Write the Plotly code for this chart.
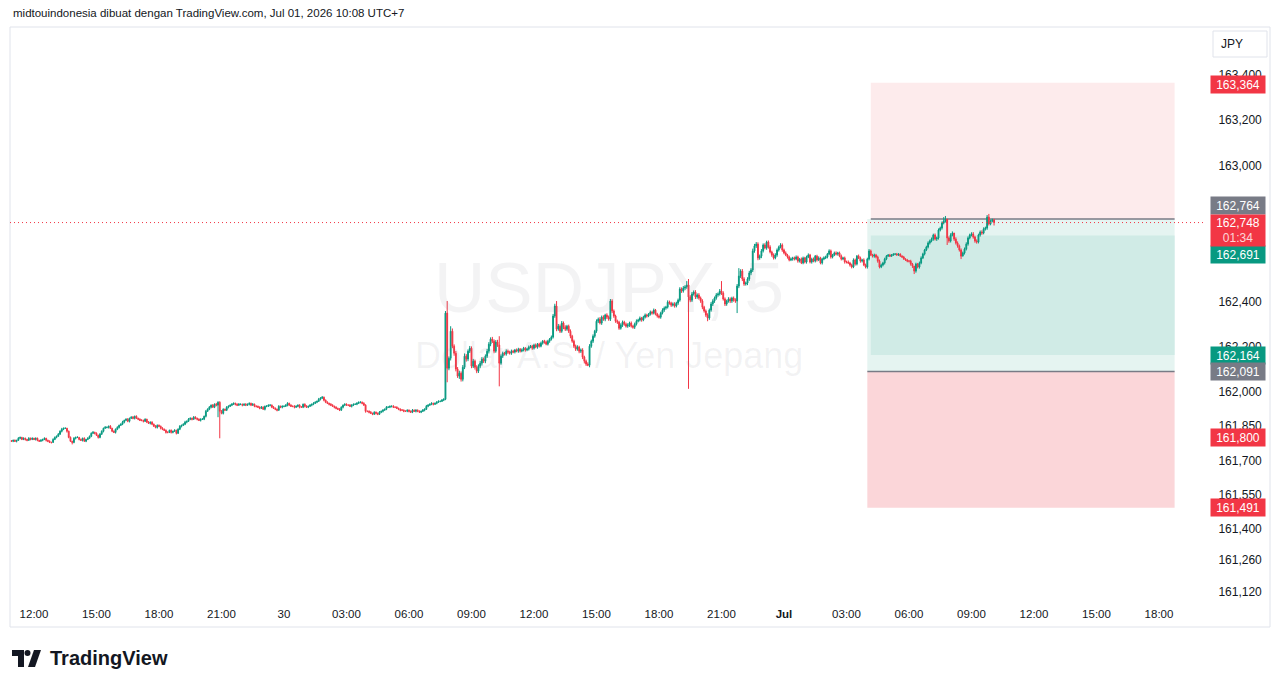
import plotly.graph_objects as go
import pandas as pd

# ---------------- data (USDJPY 5-minute bars) ----------------
bar_start = "2026-06-29 10:55"
first_open = 161.786
closes = [
    161.784,
    # Jun 29 11:00 .. 23:55
    161.788,161.784,161.788,161.797,161.801,161.792,161.797,161.792,161.788,161.797,161.792,161.797,
    161.792,161.797,161.788,161.784,161.788,161.792,161.797,161.788,161.784,161.779,161.779,161.792,
    161.801,161.806,161.815,161.828,161.837,161.841,161.841,161.828,161.801,161.784,161.779,161.797,
    161.801,161.801,161.792,161.788,161.797,161.784,161.792,161.797,161.806,161.819,161.823,161.819,
    161.810,161.801,161.815,161.828,161.841,161.845,161.845,161.850,161.841,161.828,161.823,161.837,
    161.845,161.854,161.859,161.868,161.876,161.881,161.872,161.885,161.890,161.885,161.894,161.885,
    161.881,161.876,161.876,161.872,161.881,161.868,161.863,161.868,161.859,161.850,161.845,161.854,
    161.850,161.841,161.837,161.832,161.823,161.823,161.832,161.823,161.828,161.832,161.819,161.837,
    161.850,161.854,161.859,161.868,161.872,161.881,161.885,161.881,161.890,161.885,161.881,161.876,
    161.881,161.881,161.894,161.916,161.925,161.934,161.943,161.934,161.947,161.943,161.956,161.916,
    161.907,161.925,161.921,161.934,161.938,161.943,161.947,161.951,161.947,161.943,161.947,161.947,
    161.943,161.947,161.943,161.947,161.951,161.943,161.947,161.938,161.938,161.934,161.929,161.934,
    161.925,161.938,161.938,161.943,161.943,161.934,161.929,161.925,161.921,161.938,161.934,161.938,
    # Jun 30 00:00 .. 23:55
    161.938,161.943,161.951,161.943,161.938,161.938,161.934,161.938,161.943,161.934,161.934,161.947,
    161.938,161.934,161.938,161.943,161.947,161.951,161.956,161.960,161.969,161.974,161.978,161.965,
    161.956,161.951,161.947,161.943,161.938,161.934,161.929,161.925,161.921,161.934,161.943,161.947,
    161.943,161.943,161.938,161.943,161.947,161.947,161.951,161.956,161.956,161.951,161.943,161.916,
    161.916,161.912,161.907,161.903,161.912,161.907,161.903,161.912,161.916,161.921,161.925,161.934,
    161.934,161.938,161.938,161.934,161.934,161.929,161.925,161.921,161.921,161.916,161.916,161.921,
    161.916,161.912,161.921,161.916,161.921,161.916,161.912,161.916,161.921,161.925,161.938,161.943,
    161.947,161.951,161.947,161.951,161.956,161.960,161.960,161.965,161.969,162.349,162.106,162.150,
    162.269,162.203,162.172,162.102,162.071,162.084,162.057,162.110,162.159,162.146,162.181,162.194,
    162.115,162.137,162.110,162.093,162.115,162.128,162.146,162.137,162.159,162.181,162.212,162.234,
    162.225,162.181,162.221,162.208,162.128,162.159,162.172,162.168,162.181,162.177,162.172,162.181,
    162.177,162.186,162.181,162.190,162.181,162.186,162.194,162.186,162.190,162.199,162.203,162.194,
    162.208,162.199,162.212,162.203,162.216,162.225,162.221,162.212,162.225,162.234,162.243,162.336,
    162.380,162.278,162.291,162.269,162.305,162.287,162.278,162.291,162.269,162.247,162.225,162.203,
    162.190,162.199,162.181,162.186,162.155,162.137,162.124,162.119,162.203,162.225,162.247,162.269,
    162.313,162.322,162.305,162.331,162.322,162.340,162.331,162.322,162.402,162.358,162.336,162.313,
    162.309,162.282,162.296,162.309,162.300,162.291,162.296,162.305,162.291,162.287,162.300,162.313,
    162.318,162.327,162.318,162.331,162.340,162.336,162.344,162.353,162.349,162.362,162.344,162.336,
    162.331,162.349,162.362,162.371,162.375,162.397,162.393,162.384,162.389,162.380,162.393,162.406,
    162.455,162.446,162.459,162.464,162.473,162.420,162.406,162.433,162.442,162.420,162.429,162.415,
    162.402,162.375,162.358,162.340,162.327,162.362,162.389,162.402,162.415,162.429,162.433,162.446,
    162.437,162.411,162.389,162.402,162.411,162.402,162.415,162.406,162.402,162.468,162.512,162.534,
    162.499,162.477,162.481,162.499,162.526,162.539,162.623,162.645,162.653,162.592,162.600,162.623,
    162.649,162.636,162.662,162.640,162.618,162.605,162.592,162.605,162.627,162.640,162.649,162.627,
    # Jul 1 00:00 .. 10:05
    162.614,162.605,162.596,162.583,162.587,162.592,162.587,162.596,162.578,162.587,162.570,162.592,
    162.574,162.596,162.605,162.574,162.587,162.578,162.600,162.583,162.592,162.570,162.587,162.592,
    162.596,162.609,162.623,162.596,162.605,162.614,162.609,162.614,162.600,162.587,162.592,162.574,
    162.574,162.570,162.561,162.552,162.583,162.565,162.600,162.592,162.578,162.583,162.561,162.552,
    162.587,162.623,162.605,162.600,162.605,162.596,162.578,162.552,162.561,162.570,162.587,162.600,
    162.605,162.600,162.605,162.609,162.609,162.605,162.609,162.600,162.596,162.587,162.583,162.578,
    162.578,162.565,162.556,162.534,162.565,162.552,162.570,162.592,162.609,162.627,162.640,162.658,
    162.667,162.675,162.693,162.675,162.680,162.715,162.724,162.746,162.755,162.763,162.680,162.667,
    162.693,162.702,162.675,162.658,162.645,162.627,162.600,162.614,162.631,162.653,162.680,162.693,
    162.698,162.684,162.667,162.662,162.693,162.706,162.702,162.720,162.724,162.772,162.742,162.755,
    162.760,162.748,
]
# wick lengths above / below each body, in thousandths of a yen
upper_wicks = [
    3,
    3,4,2,5,3,2,4,3,2,5,3,4,  2,4,3,2,5,3,4,2,3,4,2,5,  4,3,5,4,6,3,4,2,3,4,2,5,
    3,5,2,4,3,4,2,5,3,4,6,3,  4,3,5,4,3,6,4,3,5,2,4,3,  5,3,4,6,3,4,5,3,4,5,3,4,
    3,4,5,3,4,2,5,3,4,3,5,4,  4,3,5,3,4,5,3,4,2,5,3,4,  5,3,4,6,3,5,4,3,5,4,3,4,
    4,5,3,6,4,5,3,5,4,6,4,0,  5,4,3,5,4,3,5,4,3,4,5,3,  3,4,5,3,4,3,5,3,4,3,4,5,
    4,3,5,3,4,3,5,4,3,5,3,4,
    3,4,5,3,4,3,5,4,3,4,5,3,  4,5,3,4,3,5,4,3,6,4,5,3,  3,4,3,5,4,3,4,3,5,4,3,4,
    4,3,5,4,3,4,5,3,4,3,5,4,  3,4,5,3,4,3,4,5,3,4,3,5,  4,3,4,5,3,4,3,4,5,3,4,3,
    3,4,5,3,4,3,4,3,5,4,6,4,  4,5,3,4,5,4,3,5,4,0,0,8,  10,12,8,10,9,11,8,10,12,9,8,10,
    8,10,7,9,8,10,9,7,8,10,9,8,  10,8,9,10,0,8,7,6,8,7,6,7,  6,5,7,6,5,7,6,5,6,7,5,6,
    6,7,5,6,7,5,6,7,6,5,7,9,  0,0,10,8,9,7,8,6,7,8,6,7,  7,8,6,7,8,6,7,8,9,7,8,6,
    8,7,9,7,8,6,8,7,0,8,7,6,  7,6,8,7,6,7,8,6,7,6,7,8,  6,7,5,6,7,6,5,7,6,7,5,6,
    7,6,8,7,6,8,7,6,7,8,6,7,  8,7,9,8,0,0,8,9,7,8,7,8,  7,8,6,7,8,7,9,8,7,8,7,9,
    0,8,7,6,8,7,6,7,8,9,0,8,  9,8,7,8,9,8,10,9,0,8,7,8,  7,8,6,7,8,6,7,8,7,6,8,7,
    6,7,5,6,7,5,6,7,6,5,7,6,  5,6,7,5,6,7,5,6,7,5,6,7,  6,5,7,6,5,6,7,5,6,7,5,6,
    6,7,5,6,7,6,5,7,6,5,7,6,  6,8,6,5,6,5,6,7,6,5,6,5,  4,5,4,3,4,5,4,3,4,5,4,5,
    5,6,5,0,6,5,6,7,6,5,6,7,  6,7,6,7,6,7,6,7,0,0,0,7,  8,7,0,8,7,6,7,6,7,8,7,6,
    7,8,6,7,6,7,8,7,6,0,0,6,
    5,0,
]
lower_wicks = [
    2,
    4,3,5,2,4,3,3,5,4,2,4,3,  3,5,4,3,2,4,3,5,4,3,5,2,  3,4,2,3,5,4,3,6,4,3,0,4,
    5,3,4,2,5,3,4,3,2,4,3,5,  3,5,4,3,5,2,4,5,3,4,3,5,  4,5,3,4,5,3,4,5,3,4,5,3,
    4,3,4,5,3,4,3,5,4,3,4,5,  3,5,4,3,5,4,3,5,4,3,5,3,  4,5,3,4,5,3,4,5,3,4,5,3,
    5,3,4,5,3,4,5,3,4,5,0,0,  4,5,3,4,5,3,4,3,5,4,3,4,  5,3,4,3,5,4,3,4,5,3,4,3,
    3,5,4,3,5,4,3,4,5,3,4,5,
    4,3,5,4,3,4,5,3,4,5,3,4,  5,3,4,3,5,4,3,4,3,5,4,5,  4,3,5,4,3,5,4,3,4,3,5,4,
    3,4,3,5,4,3,4,3,5,4,3,6,  4,5,3,4,3,5,4,3,4,5,3,4,  3,4,5,3,4,3,4,5,3,4,3,4,
    5,3,4,3,5,4,3,4,3,5,3,4,  3,4,5,3,4,3,4,3,4,4,0,9,  10,9,11,10,8,12,10,9,8,11,9,8,
    9,8,10,9,8,9,10,8,9,8,10,9,  8,9,7,8,0,7,8,6,7,8,6,7,  5,6,5,7,6,5,6,7,5,6,5,7,
    6,5,7,6,5,6,7,5,6,7,6,6,  8,9,7,8,7,9,8,7,8,9,7,8,  8,7,9,8,9,10,8,0,0,7,8,7,
    7,8,6,8,7,9,8,7,8,9,8,7,  8,7,6,8,7,6,7,8,6,7,8,6,  5,6,7,5,6,7,5,6,7,6,5,7,
    6,7,6,8,7,6,7,8,6,7,6,8,  7,8,7,9,8,0,9,8,7,9,8,7,  8,9,7,8,0,8,7,9,8,7,8,7,
    8,7,9,8,7,9,8,7,8,0,9,8,  9,8,7,9,8,10,9,8,9,10,8,9,  7,6,8,7,6,8,7,6,8,7,6,8,
    6,5,7,6,5,7,6,5,7,6,5,6,  6,7,5,6,7,5,6,7,5,6,7,5,  5,6,5,7,6,5,6,7,5,6,5,7,
    6,5,7,6,5,7,6,5,7,6,5,6,  7,6,5,6,7,6,7,6,5,6,7,5,  3,4,3,4,5,3,4,3,4,3,4,5,
    6,7,8,0,7,6,7,6,5,6,5,6,  7,6,7,6,8,7,6,7,6,7,0,8,  7,6,8,7,8,7,0,0,7,6,7,6,
    6,7,8,7,6,7,8,6,7,8,7,6,
    6,0,
]
# long wicks of individual bars: (high, low)
wick_bars = {
    "2026-06-29 13:50": (None, 161.770),
    "2026-06-29 20:50": (161.960, 161.890),
    "2026-06-29 20:55": (161.960, 161.797),
    "2026-06-30 07:45": (162.358, None),
    "2026-06-30 07:50": (162.402, 162.044),
    "2026-06-30 08:00": (162.291, None),
    "2026-06-30 10:20": (162.247, 162.026),
    "2026-06-30 13:00": (162.390, None),
    "2026-06-30 13:05": (162.402, None),
    "2026-06-30 14:35": (None, 162.115),
    "2026-06-30 14:40": (None, 162.110),
    "2026-06-30 15:40": (162.411, None),
    "2026-06-30 19:20": (162.490, None),
    "2026-06-30 19:25": (162.499, 162.015),
    "2026-06-30 20:20": (None, 162.313),
    "2026-06-30 21:00": (162.490, None),
    "2026-06-30 21:45": (None, 162.349),
    "2026-06-30 21:50": (162.547, None),
    "2026-06-30 22:40": (162.662, None),
    "2026-07-01 06:15": (None, 162.521),
    "2026-07-01 07:40": (162.772, None),
    "2026-07-01 07:45": (162.777, None),
    "2026-07-01 07:50": (162.750, 162.649),
    "2026-07-01 08:30": (None, 162.587),
    "2026-07-01 08:35": (None, 162.600),
    "2026-07-01 09:45": (162.781, None),
    "2026-07-01 09:50": (162.786, None),
    "2026-07-01 10:05": (162.764, 162.735),
}

# axis ticks
x_tick_times = pd.date_range("2026-06-29 12:00", "2026-07-01 18:00", freq="3h")
x_tick_text = ["12:00", "15:00", "18:00", "21:00", "30", "03:00", "06:00", "09:00", "12:00",
               "15:00", "18:00", "21:00", "<b>Jul</b>", "03:00", "06:00", "09:00", "12:00",
               "15:00", "18:00"]
y_tick_vals = [163.400, 163.200, 163.000, 162.400, 162.200, 162.000, 161.850, 161.700,
               161.550, 161.400, 161.260, 161.120]

# position tool drawing levels
tool_start_a = "2026-07-01 04:10"
tool_start_b = "2026-07-01 04:00"
tool_end = "2026-07-01 18:45"
lvl_target = 163.364
lvl_mid = 162.764
lvl_dark_top = 162.691
lvl_dark_bot = 162.164
lvl_entry = 162.091
lvl_stop = 161.491
last_price = 162.748

# price scale labels: (price, text, colour, vertical shift in px)
price_labels = [
    (163.364, "163,364", "#f23645", -2),
    (162.764, "162,764", "#787b86", 13),
    (162.691, "162,691", "#089981", -19),
    (162.164, "162,164", "#089981", 0),
    (162.091, "162,091", "#787b86", 0),
    (161.800, "161,800", "#f23645", 0),
    (161.491, "161,491", "#f23645", 0),
]

# ---------------- build ----------------
times = pd.date_range(bar_start, periods=len(closes), freq="5min")
opens = [first_open] + closes[:-1]   # FX bars open at the previous close
highs = [round(max(o, c) + u / 1000, 3) for o, c, u in zip(opens, closes, upper_wicks)]
lows = [round(min(o, c) - d / 1000, 3) for o, c, d in zip(opens, closes, lower_wicks)]
tlist = list(times)
for key, (h, l) in wick_bars.items():
    i = tlist.index(pd.Timestamp(key))
    if h is not None:
        highs[i] = h
    if l is not None:
        lows[i] = l

W, H = 1281, 688
L, R, T, B = 10, 1205, 27, 598


def px(X):
    return (X - L) / (R - L)


def py(Y):
    return (B - Y) / (B - T)


FONT = "Liberation Sans, Arial, sans-serif"
TXT = "#131722"
GREEN = "#089981"
RED = "#f23645"

fig = go.Figure()
fig.add_trace(go.Candlestick(
    x=times, open=opens, high=highs, low=lows, close=closes,
    increasing=dict(line=dict(color=GREEN, width=1), fillcolor=GREEN),
    decreasing=dict(line=dict(color=RED, width=1), fillcolor=RED),
    whiskerwidth=0, hoverinfo="skip", showlegend=False,
))

shapes = []
shapes.append(dict(type="rect", xref="x", yref="y", x0=tool_start_a, x1=tool_end,
                   y0=lvl_mid, y1=lvl_target, fillcolor="#fdebec", line_width=0, layer="below"))
shapes.append(dict(type="rect", xref="x", yref="y", x0=tool_start_b, x1=tool_end,
                   y0=lvl_entry, y1=lvl_mid, fillcolor="#e5f4f1", line_width=0, layer="below"))
shapes.append(dict(type="rect", xref="x", yref="y", x0=tool_start_a, x1=tool_end,
                   y0=lvl_dark_bot, y1=lvl_dark_top, fillcolor="#d0ebe6", line_width=0, layer="below"))
shapes.append(dict(type="rect", xref="x", yref="y", x0=tool_start_b, x1=tool_end,
                   y0=lvl_stop, y1=lvl_entry, fillcolor="#fbd6d9", line_width=0, layer="below"))
shapes.append(dict(type="line", xref="x", yref="y", x0=tool_start_a, x1=tool_end,
                   y0=lvl_mid, y1=lvl_mid, line=dict(color="#787b86", width=1.5), layer="below"))
shapes.append(dict(type="line", xref="x", yref="y", x0=tool_start_b, x1=tool_end,
                   y0=lvl_entry, y1=lvl_entry, line=dict(color="#787b86", width=1.5), layer="below"))
shapes.append(dict(type="line", xref="paper", yref="y", x0=0, x1=1, y0=last_price, y1=last_price,
                   line=dict(color=RED, width=1, dash="1px,3px"), layer="above"))
shapes.append(dict(type="rect", xref="paper", yref="paper", x0=px(10), x1=px(1270),
                   y0=py(627), y1=py(27), line=dict(color="#e0e3eb", width=1), layer="below"))
shapes.append(dict(type="rect", xref="paper", yref="paper", x0=px(1213), x1=px(1267),
                   y0=py(57), y1=py(31), line=dict(color="#e0e3eb", width=1), fillcolor="white"))


def path_px(points):
    return "M " + " L ".join(f"{px(a):.5f},{py(b):.5f}" for a, b in points) + " Z"


shapes.append(dict(type="path", xref="paper", yref="paper",
                   path=path_px([(12, 650), (24, 650), (24, 667), (18, 667), (18, 656), (12, 656)]),
                   fillcolor="#131722", line_width=0))
shapes.append(dict(type="circle", xref="paper", yref="paper", x0=px(24.5), x1=px(30.5),
                   y0=py(656), y1=py(650), fillcolor="#131722", line_width=0))
shapes.append(dict(type="path", xref="paper", yref="paper",
                   path=path_px([(34, 650), (41, 650), (35, 667), (28, 667)]),
                   fillcolor="#131722", line_width=0))

annotations = []
annotations.append(dict(xref="paper", yref="paper", x=px(609), y=py(287), text="USDJPY, 5",
                        showarrow=False, font=dict(family=FONT, size=71, color="rgba(120,123,134,0.09)"),
                        xanchor="center", yanchor="middle"))
annotations.append(dict(xref="paper", yref="paper", x=px(609), y=py(355),
                        text="Dollar A.S. / Yen Jepang", showarrow=False,
                        font=dict(family=FONT, size=36, color="rgba(120,123,134,0.09)"),
                        xanchor="center", yanchor="middle"))
annotations.append(dict(xref="paper", yref="paper", x=px(11), y=py(13), xanchor="left", yanchor="middle",
                        text="midtouindonesia dibuat dengan TradingView.com, Jul 01, 2026 10:08 UTC+7",
                        showarrow=False, font=dict(family=FONT, size=11.5, color=TXT)))
annotations.append(dict(xref="paper", yref="paper", x=px(1232), y=py(44), xanchor="center", yanchor="middle",
                        text="JPY", showarrow=False, font=dict(family=FONT, size=12, color=TXT)))
annotations.append(dict(xref="paper", yref="paper", x=px(48), y=py(658), xanchor="left", yanchor="middle",
                        text="<b>TradingView</b>", showarrow=False,
                        font=dict(family=FONT, size=20, color=TXT)))
for price, txt, col, shift in price_labels:
    annotations.append(dict(xref="paper", yref="y", x=px(1210), y=price, yshift=shift,
                            xanchor="left", yanchor="middle", text=txt, showarrow=False,
                            bgcolor=col, width=50, height=13, borderpad=2, align="center",
                            font=dict(family=FONT, size=12, color="white")))
annotations.append(dict(xref="paper", yref="y", x=px(1210), y=last_price, yshift=-8,
                        xanchor="left", yanchor="middle",
                        text="162,748<br><span style='color:rgba(255,255,255,0.8)'>01:34</span>",
                        showarrow=False, bgcolor=RED, width=50, height=27, borderpad=2, align="center",
                        font=dict(family=FONT, size=12, color="white")))

x_left = pd.Timestamp("2026-06-30 00:00") + pd.Timedelta(hours=(L - 284) / 20.833)
x_right = pd.Timestamp("2026-06-30 00:00") + pd.Timedelta(hours=(R - 284) / 20.833)

fig.update_layout(
    width=W, height=H, autosize=False,
    margin=dict(l=L, r=W - R, t=T, b=H - B, pad=0),
    paper_bgcolor="white", plot_bgcolor="white",
    shapes=shapes, annotations=annotations,
    font=dict(family=FONT, color=TXT, size=12),
    showlegend=False,
    xaxis=dict(type="date", range=[x_left, x_right], tickvals=list(x_tick_times), ticktext=x_tick_text,
               showgrid=False, zeroline=False, showline=False, ticks="outside", ticklen=5,
               tickcolor="rgba(0,0,0,0)", tickfont=dict(family=FONT, size=11.5, color=TXT),
               rangeslider=dict(visible=False), fixedrange=True),
    yaxis=dict(side="right", range=[161.093, 163.610], tickvals=y_tick_vals,
               ticktext=[f"{v:.3f}".replace(".", ",") for v in y_tick_vals],
               showgrid=False, zeroline=False, showline=False, ticks="outside", ticklen=10,
               tickcolor="rgba(0,0,0,0)", tickfont=dict(family=FONT, size=12, color=TXT),
               fixedrange=True),
)

fig.write_html("out.html")
